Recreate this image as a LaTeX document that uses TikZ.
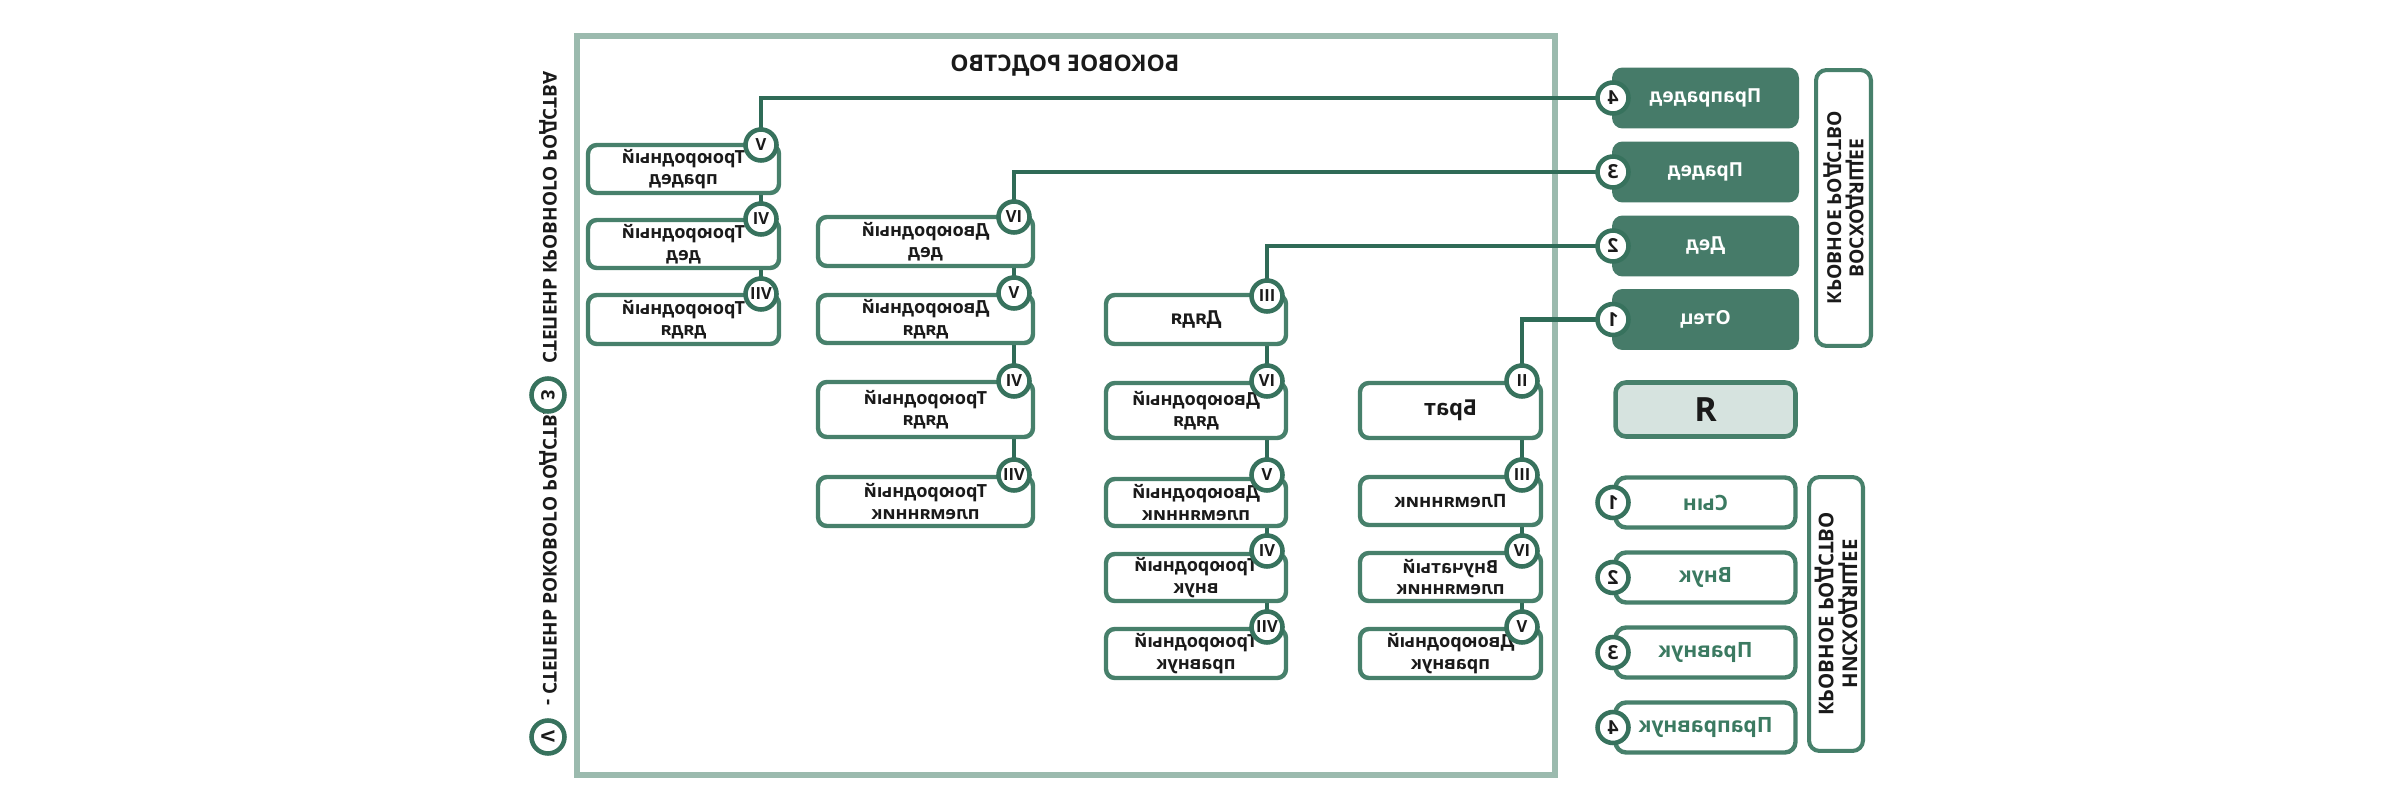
\documentclass[tikz,border=0pt]{standalone}
\usepackage{fontspec}
\setmainfont{Open Sans}
\usetikzlibrary{backgrounds}
\definecolor{boxc}{HTML}{47806B}
\definecolor{connc}{HTML}{2F6B57}
\definecolor{circc}{HTML}{37725D}
\definecolor{framec}{HTML}{9BBAAE}
\definecolor{darkfill}{HTML}{467B69}
\definecolor{rfill}{HTML}{D6E3DF}
\definecolor{greentext}{HTML}{3B7A61}
\definecolor{inkc}{HTML}{1A1A1A}
\newcommand{\fsz}[2]{\fontsize{#1}{#2}\selectfont}
\begin{document}
\begin{tikzpicture}[x=0.02cm, y=-0.02cm,
  mir/.style={xscale=-1},
  lbl/.style={text=inkc, font=\bfseries\fsz{10.3}{12.2}, align=center},
  box/.style={draw=boxc, line width=2.5pt, fill=white, rounded corners=5pt, inner sep=0pt, lbl, mir},
  colA/.style={box, minimum width=3.82cm},
  colB/.style={box, minimum width=4.30cm},
  colC/.style={box, minimum width=3.60cm},
  colD/.style={box, minimum width=3.62cm},
  ring/.style={circle, draw=circc, line width=2.6pt, fill=white, inner sep=0pt, text=inkc},
  num/.style={ring, minimum size=0.62cm, font=\bfseries\fsz{9.5}{10}, mir},
  dig/.style={num, font=\bfseries\fsz{11}{12}},
  lnum/.style={ring, minimum size=0.66cm, font=\bfseries\fsz{10.5}{12}, xscale=-1, rotate=90},
  legtext/.style={text=inkc, font=\bfseries\fsz{10.8}{12}, anchor=west, xscale=-1, rotate=90},
  upbox/.style={fill=darkfill, rounded corners=6pt, minimum width=3.74cm, minimum height=1.22cm, inner sep=0pt, text=white, font=\bfseries\fsz{11}{13}, mir},
  downbox/.style={draw=boxc, line width=2.5pt, fill=white, rounded corners=6pt, minimum width=3.6cm, minimum height=1.0cm, inner sep=0pt, text=greentext, font=\bfseries\fsz{12}{14}, mir},
  vbox/.style={draw=boxc, line width=2.3pt, fill=white, rounded corners=6pt, inner sep=0pt, text=inkc, align=center, xscale=-1, rotate=90},
  conn/.style={draw=connc, line width=2.8pt}]
\useasboundingbox (0,0) rectangle (2400,800);

% title
\node[text=inkc, font=\bfseries\fsz{13}{15}, mir] (title) at (1065,66) {БОКОВОЕ РОДСТВО};

% column A
\node[colA, minimum height=0.96cm] (a1) at (683.5,169) {Троюродный\\прадед};
\node[num] (na1) at (761,145) {V};
\node[colA, minimum height=0.96cm] (a2) at (683.5,244) {Троюродный\\дед};
\node[num] (na2) at (761,219) {VI};
\node[colA, minimum height=0.98cm] (a3) at (683.5,319.5) {Троюродный\\дядя};
\node[num] (na3) at (761,294) {VII};

% column B
\node[colB, minimum height=0.98cm] (b1) at (925.5,241.5) {Двоюродный\\дед};
\node[num] (nb1) at (1014,217) {IV};
\node[colB, minimum height=0.96cm] (b2) at (925.5,319) {Двоюродный\\дядя};
\node[num] (nb2) at (1014,293) {V};
\node[colB, minimum height=1.10cm] (b3) at (925.5,409.5) {Троюродный\\дядя};
\node[num] (nb3) at (1014,381) {VI};
\node[colB, minimum height=0.98cm] (b4) at (925.5,501.5) {Троюродный\\племянник};
\node[num] (nb4) at (1014,475) {VII};

% column C
\node[colC, minimum height=0.98cm, font=\bfseries\fsz{11}{13}] (c1) at (1196,319.5) {Дядя};
\node[num] (nc1) at (1267,296) {III};
\node[colC, minimum height=1.10cm] (c2) at (1196,410.5) {Двоюродный\\дядя};
\node[num] (nc2) at (1267,381) {IV};
\node[colC, minimum height=0.94cm] (c3) at (1196,502.5) {Двоюродный\\племянник};
\node[num] (nc3) at (1267,475) {V};
\node[colC, minimum height=0.94cm] (c4) at (1196,577.5) {Троюродный\\внук};
\node[num] (nc4) at (1267,551) {VI};
\node[colC, minimum height=0.98cm] (c5) at (1196,653.5) {Троюродный\\правнук};
\node[num] (nc5) at (1267,627) {VII};

% column D
\node[colD, minimum height=1.10cm, font=\bfseries\fsz{12.5}{14}] (d1) at (1450.5,410.5) {Брат};
\node[num] (nd1) at (1522,381) {II};
\node[colD, minimum height=0.96cm, font=\bfseries\fsz{10.5}{12}] (d2) at (1450.5,501) {Племянник};
\node[num] (nd2) at (1522,475) {III};
\node[colD, minimum height=0.96cm] (d3) at (1450.5,577) {Внучатый\\племянник};
\node[num] (nd3) at (1522,551) {IV};
\node[colD, minimum height=0.98cm] (d4) at (1450.5,653.5) {Двоюродный\\правнук};
\node[num] (nd4) at (1522,627) {V};

% ascending
\node[upbox] (u4) at (1705.5,98) {Прапрадед};
\node[dig] (r4) at (1613,98) {4};
\node[upbox] (u3) at (1705.5,172) {Прадед};
\node[dig] (r3) at (1613,172) {3};
\node[upbox] (u2) at (1705.5,246) {Дед};
\node[dig] (r2) at (1613,246) {2};
\node[upbox] (u1) at (1705.5,319.5) {Отец};
\node[dig] (r1) at (1613,319.5) {1};

% ego
\node[draw=boxc, line width=2.6pt, fill=rfill, rounded corners=6pt, minimum width=3.6cm, minimum height=1.08cm, inner sep=0pt, text=inkc, font=\bfseries\fsz{19}{21}, mir] (ego) at (1705.5,409.5) {Я};

% descending
\node[downbox] (w1) at (1705.5,502.5) {Сын};
\node[dig] (s1) at (1613,502.5) {1};
\node[downbox] (w2) at (1705.5,577.5) {Внук};
\node[dig] (s2) at (1613,577.5) {2};
\node[downbox] (w3) at (1705.5,652.5) {Правнук};
\node[dig] (s3) at (1613,652.5) {3};
\node[downbox] (w4) at (1705.5,727.5) {Праправнук};
\node[dig] (s4) at (1613,727.5) {4};

% vertical labels
\node[vbox, font=\bfseries\fsz{11}{12.6}, minimum width=5.52cm, minimum height=1.10cm] (vup) at (1843.5,208) {ВОСХОДЯЩЕЕ\\КРОВНОЕ РОДСТВО};
\node[vbox, font=\bfseries\fsz{11.6}{13.4}, minimum width=5.48cm, minimum height=1.08cm] (vdown) at (1836,614) {НИСХОДЯЩЕЕ\\КРОВНОЕ РОДСТВО};

% legend
\node[lnum] (lv) at (548,737) {V};
\node[legtext] (lt1) at (548,712) {- СТЕПЕНЬ БОКОВОГО РОДСТВА};
\node[lnum] (l3) at (548,395) {3};
\node[legtext] (lt2) at (548,370) {СТЕПЕНЬ КРОВНОГО РОДСТВА};

\begin{pgfonlayer}{background}
\node[draw=framec, line width=3.4pt, minimum width=19.56cm, minimum height=14.78cm, inner sep=0pt] (fr) at (1066,405.5) {};
\draw[conn] (r4.center) -| (na1.center);
\draw[conn] (r3.center) -| (nb1.center);
\draw[conn] (r2.center) -| (nc1.center);
\draw[conn] (r1.center) -| (nd1.center);
\draw[conn] (na1.center) -- (na2.center) -- (na3.center);
\draw[conn] (nb1.center) -- (nb2.center) -- (nb3.center) -- (nb4.center);
\draw[conn] (nc1.center) -- (nc2.center) -- (nc3.center) -- (nc4.center) -- (nc5.center);
\draw[conn] (nd1.center) -- (nd2.center) -- (nd3.center) -- (nd4.center);
\end{pgfonlayer}
\end{tikzpicture}
\end{document}
